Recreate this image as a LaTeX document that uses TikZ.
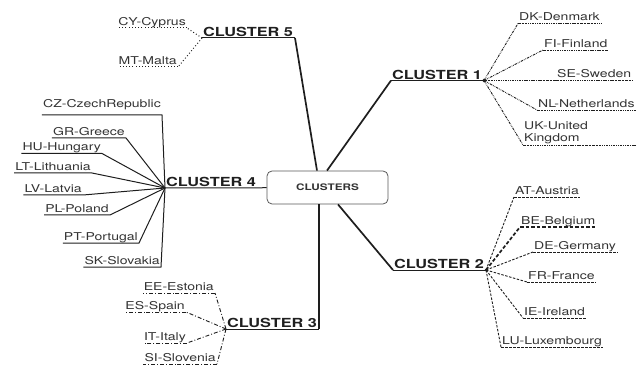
\documentclass[tikz,border=0pt]{standalone}
\usepackage{fontspec}
\setmainfont{TeX Gyre Heros}[FakeStretch=1.3]
\usetikzlibrary{calc}
\definecolor{ink}{HTML}{1E1E1E}
\definecolor{txt}{HTML}{333333}

\begin{document}
\begin{tikzpicture}[x=1pt,y=-1pt,
  labelbase/.style={inner xsep=1pt, inner ysep=0.7pt, font=\fontsize{10.8}{12}\selectfont, text=txt},
  leaf/.style={labelbase, text height=7.8pt, text depth=2pt},
  cluster/.style={inner xsep=1pt, inner ysep=1pt, text height=9pt, text depth=0pt,
    font=\bfseries\fontsize{12.5}{14}\selectfont, text=black!88},
  rootbox/.style={draw=black!65, rounded corners=5pt, minimum width=121pt, minimum height=33pt,
    line width=0.8pt, font=\bfseries\fontsize{9}{10}\selectfont, text=black!80},
  trunk/.style={draw=ink, line width=1.7pt},
  rule/.style={draw=ink, line width=1pt},
  solidleaf/.style={draw=ink, line width=1pt},
  dashdotdot/.style={draw=ink, line width=0.9pt,
    dash pattern=on 2.5pt off 1pt on 0.7pt off 1pt on 0.7pt off 1pt},
  dashleaf/.style={draw=ink, line width=0.9pt, dash pattern=on 2.5pt off 1.5pt},
  dashdotleaf/.style={draw=ink, line width=0.9pt, dash pattern=on 4pt off 2pt on 0.9pt off 2pt},
  dotleaf/.style={draw=ink, line width=1pt, dash pattern=on 0.9pt off 2.3pt}
]
\useasboundingbox (0,0) rectangle (637,366);

% centre
\node[rootbox] (root) at (327.5,187.5) {CLUSTERS};

% ---------------- cluster 1 ----------------
\node[cluster, anchor=south west] (c1) at (391,80.5) {CLUSTER 1};
\coordinate (h1) at (484,80.5);
\draw[trunk] ($(root.north)+(-0.5,0)$) -- (c1.south west);
\draw[rule] (c1.south west) -- (h1);
\fill[ink] (h1) circle (1.8pt);

\node[leaf, anchor=south west] (dk) at (518,23.5) {DK-Denmark};
\node[leaf, anchor=south west] (fi) at (543,50) {FI-Finland};
\node[leaf, anchor=south west] (se) at (556,80.5) {SE-Sweden};
\node[leaf, anchor=south west] (nl) at (537,110) {NL-Netherlands};
\node[labelbase, anchor=south west, text width=112pt, align=left] (uk) at (523,145) {UK-United\\Kingdom};
\foreach \n in {dk,fi,se,nl,uk}{
  \draw[dashdotdot] (h1) -- (\n.south west);
  \draw[dashdotdot] (\n.south west) -- (\n.south east);
}

% ---------------- cluster 2 ----------------
\node[cluster, anchor=south west] (c2) at (393,270) {CLUSTER 2};
\coordinate (h2) at (486,270);
\draw[trunk] ($(root.south)+(10.5,0)$) -- (c2.south west);
\draw[rule] (c2.south west) -- (h2);
\fill[ink] (h2) circle (1.5pt);

\node[leaf, anchor=south west] (at) at (514,197) {AT-Austria};
\node[leaf, anchor=south west] (be) at (520,227) {BE-Belgium};
\node[leaf, anchor=south west] (de) at (533,252) {DE-Germany};
\node[leaf, anchor=south west] (fr) at (527,282) {FR-France};
\node[leaf, anchor=south west] (ie) at (523,318) {IE-Ireland};
\node[leaf, anchor=south west] (lu) at (501,347) {LU-Luxembourg};
\foreach \n in {at,de,fr,ie,lu}{
  \draw[dashleaf] (h2) -- (\n.south west);
  \draw[dashleaf] (\n.south west) -- (\n.south east);
}
\draw[dashleaf, line width=1.7pt, dash pattern=on 3.5pt off 2pt] (h2) -- (be.south west);
\draw[dashleaf, line width=1.4pt, dash pattern=on 3.5pt off 2pt] (be.south west) -- (be.south east);

% ---------------- cluster 3 ----------------
\node[cluster, anchor=south west] (c3) at (226,329) {CLUSTER 3};
\coordinate (k3) at (319,329);
\draw[trunk] (root.south -| k3) -- (k3);
\draw[rule] (k3) -- (c3.south west);

\node[leaf, anchor=south east] (ee) at (215,293) {EE-Estonia};
\node[leaf, anchor=south east] (es) at (186,312) {ES-Spain};
\node[leaf, anchor=south east] (it) at (187,343) {IT-Italy};
\node[leaf, anchor=south east] (si) at (217,364) {SI-Slovenia};
\foreach \n in {ee,es,it,si}{
  \draw[dashdotleaf] (c3.south west) -- (\n.south east);
  \draw[dashdotleaf] (\n.south east) -- (\n.south west);
}

% ---------------- cluster 4 ----------------
\node[cluster, anchor=south west] (c4) at (165,188) {CLUSTER 4};
\coordinate (k4) at (258,188);
\draw[rule] (c4.south west) -- (k4) -- (root.west);

\node[leaf, anchor=south east, inner ysep=5pt] (cz) at (162,115) {CZ-CzechRepublic};
\node[leaf, anchor=south east] (gr) at (126,138) {GR-Greece};
\node[leaf, anchor=south east] (hu) at (102,153.5) {HU-Hungary};
\node[leaf, anchor=south east] (lt) at (92,173) {LT-Lithuania};
\node[leaf, anchor=south east] (lv) at (83,195) {LV-Latvia};
\node[leaf, anchor=south east] (pl) at (110,215) {PL-Poland};
\node[leaf, anchor=south east] (pt) at (139,243) {PT-Portugal};
\node[leaf, anchor=south east] (sk) at (161,267) {SK-Slovakia};
\foreach \n in {cz,gr,hu,lt,lv,pl,pt,sk}{
  \draw[solidleaf] (c4.south west) -- (\n.south east) -- (\n.south west);
}

% ---------------- cluster 5 ----------------
\node[cluster, anchor=south west] (c5) at (202,38) {CLUSTER 5};
\coordinate (k5) at (295,38);
\draw[rule] (c5.south west) -- (k5);
\draw[trunk] (k5) -- ($(root.north)+(-10.5,0)$);

\node[leaf, anchor=south east] (cy) at (187,28) {CY-Cyprus};
\node[leaf, anchor=south east] (mt) at (178,67) {MT-Malta};
\foreach \n in {cy,mt}{
  \draw[dotleaf] (c5.south west) -- (\n.south east);
  \draw[dotleaf] (\n.south east) -- (\n.south west);
}
\end{tikzpicture}
\end{document}
